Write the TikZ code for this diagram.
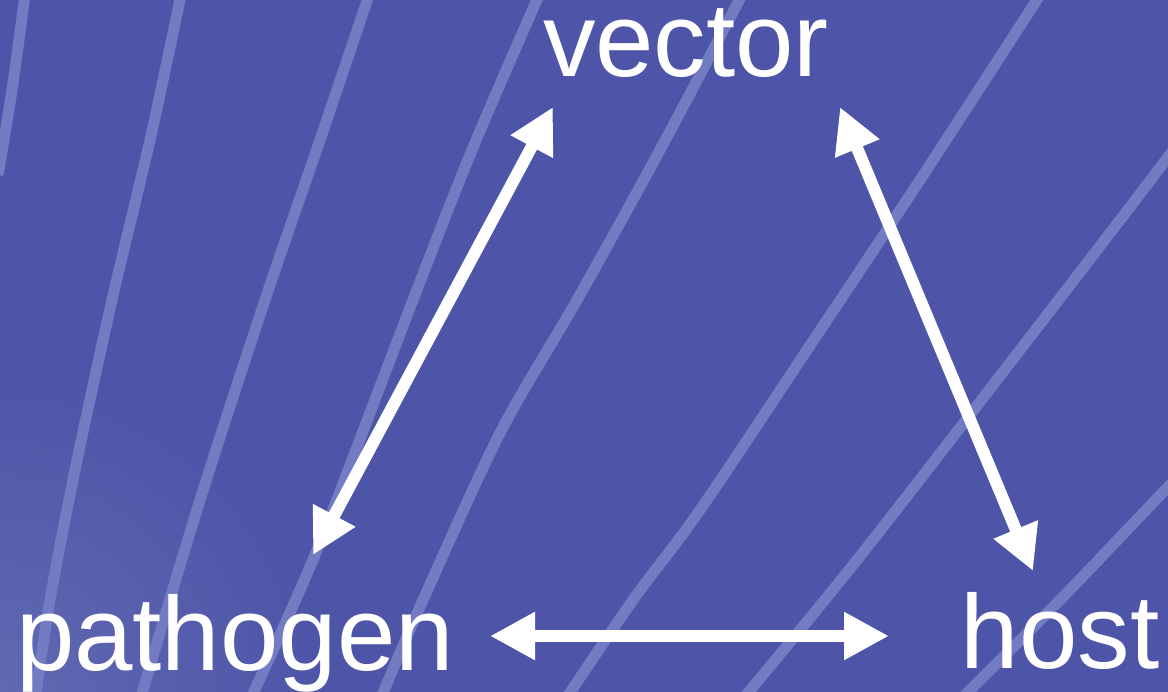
\documentclass[tikz,border=0pt]{standalone}
\usepackage{fontspec}
\setmainfont{Liberation Sans}
\usetikzlibrary{arrows.meta,calc}
\definecolor{bgblue}{HTML}{4E55A8}
\definecolor{bglight}{HTML}{6169B2}
\definecolor{streak}{HTML}{737BC2}
\tikzset{
  label/.style={text=white, inner sep=0pt, anchor=base, font=\fontsize{105}{120}\selectfont},
  streakline/.style={draw=streak, line width=11pt},
  biarrow/.style={draw=white, line width=12pt, {Triangle[length=45pt,width=45pt]}-{Triangle[length=45pt,width=45pt]}}
}
\begin{document}
\begin{tikzpicture}[x=1pt,y=-1pt]
\useasboundingbox (0,0) rectangle (1168,692);
\begin{scope}
\clip (0,0) rectangle (1168,692);
\fill[bgblue] (0,0) rectangle (1168,692);
\shade[inner color=bglight, outer color=bgblue] (0,692) circle (320);
% streaks
\draw[streakline] plot[smooth] coordinates {(25,-5) (12,90) (-2,175)};
\draw[streakline] plot[smooth] coordinates {(181,-5) (150,140) (112,300) (75,470) (50,600) (35,700)};
\draw[streakline] plot[smooth] coordinates {(369,-5) (320,140) (265,300) (200,500) (140,700)};
\draw[streakline] plot[smooth] coordinates {(539,-5) (472,150) (413,300) (317,550) (250,700)};
\draw[streakline] plot[smooth] coordinates {(742,-5) (660,150) (577,300) (500,433) (423,600) (380,700)};
\draw[streakline] plot[smooth] coordinates {(1040,-5) (920,180) (807,350) (700,510) (633,600) (565,700)};
\draw[streakline] plot[smooth] coordinates {(1280,5) (1168,157) (1020,350) (857,560) (742,700)};
\draw[streakline] plot[smooth] coordinates {(1200,455) (1168,487) (1060,600) (960,700)};
\end{scope}
% labels
\node[label] (vector) at (686,77) {vector};
\node[label] (pathogen) at (235,670) {pathogen};
\node[label] (host) at (1060,668) {host};
% connectors
\draw[biarrow] ([shift={(78,-115)}]pathogen.base) -- ([shift={(-133,30)}]vector.base);
\draw[biarrow] ([shift={(154,30)}]vector.base) -- ([shift={(-27,-97)}]host.base);
\draw[biarrow] ([shift={(255,-34)}]pathogen.base) -- ([shift={(-171,-32)}]host.base);
\end{tikzpicture}
\end{document}
